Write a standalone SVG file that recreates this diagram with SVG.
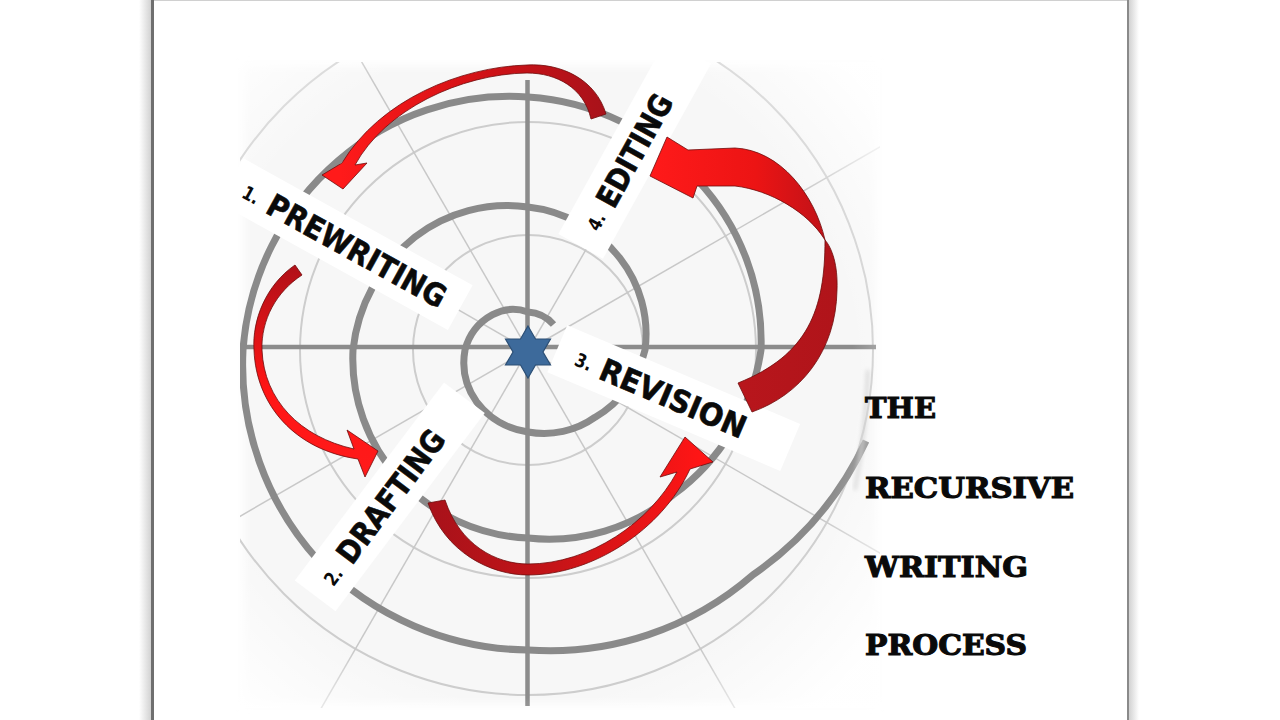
<svg xmlns="http://www.w3.org/2000/svg" width="1280" height="720" viewBox="0 0 1280 720">
<defs>
<style>
.thick{fill:none;stroke:#8a8a8a;stroke-width:7}
.axis{fill:none;stroke:#8c8c8c;stroke-width:4.5}
.thin{fill:none;stroke:#cdcdcd;stroke-width:2}
.ray{stroke:#c8c8c8;stroke-width:1.5}
.band{fill:#ffffff}
.lbl{font-family:"DejaVu Sans","Liberation Sans",sans-serif;font-weight:bold;font-size:31px;fill:#0a0a0a;stroke:#0a0a0a;stroke-width:0.6}
.num{font-family:"DejaVu Sans","Liberation Sans",sans-serif;font-weight:bold;font-size:19px;fill:#0a0a0a}
.ttl{font-family:"DejaVu Serif","Liberation Serif",serif;font-weight:bold;font-size:28px;fill:#0a0a0a;stroke:#0a0a0a;stroke-width:1.1}
.arrow{stroke:#6e0b0b;stroke-width:0.8;stroke-linejoin:round}
</style>
<clipPath id="picClip"><rect x="240" y="62" width="640" height="646"/></clipPath>
<radialGradient id="vig" gradientUnits="userSpaceOnUse" cx="528" cy="372" r="440">
<stop offset="0" stop-color="#fff" stop-opacity="0"/>
<stop offset="0.74" stop-color="#fff" stop-opacity="0"/>
<stop offset="1" stop-color="#fff" stop-opacity="0.95"/>
</radialGradient>
<linearGradient id="gA" gradientUnits="userSpaceOnUse" x1="340" y1="0" x2="606" y2="0">
<stop offset="0" stop-color="#ff1a1a"/><stop offset="0.45" stop-color="#d81216"/><stop offset="1" stop-color="#a8121a"/>
</linearGradient>
<linearGradient id="gB" gradientUnits="userSpaceOnUse" x1="0" y1="265" x2="0" y2="470">
<stop offset="0" stop-color="#b01018"/><stop offset="0.6" stop-color="#ff1515"/><stop offset="1" stop-color="#ff1a1a"/>
</linearGradient>
<linearGradient id="gC" gradientUnits="userSpaceOnUse" x1="430" y1="0" x2="700" y2="0">
<stop offset="0" stop-color="#a8121a"/><stop offset="0.45" stop-color="#c41418"/><stop offset="1" stop-color="#ff1515"/>
</linearGradient>
<linearGradient id="gDu" gradientUnits="userSpaceOnUse" x1="650" y1="0" x2="826" y2="0">
<stop offset="0" stop-color="#ff1a1a"/><stop offset="0.6" stop-color="#ec1414"/><stop offset="1" stop-color="#c01218"/>
</linearGradient>
<linearGradient id="gDl" gradientUnits="userSpaceOnUse" x1="740" y1="0" x2="838" y2="0">
<stop offset="0" stop-color="#b8161c"/><stop offset="1" stop-color="#b0141a"/>
</linearGradient>
<linearGradient id="shL" x1="0" y1="0" x2="1" y2="0">
<stop offset="0" stop-color="#ffffff"/><stop offset="1" stop-color="#d2d2d2"/>
</linearGradient>
<linearGradient id="shR" x1="0" y1="0" x2="1" y2="0">
<stop offset="0" stop-color="#d2d2d2"/><stop offset="1" stop-color="#ffffff"/>
</linearGradient>
<filter id="soft" x="-10%" y="-10%" width="120%" height="120%"><feGaussianBlur stdDeviation="4"/></filter>
<filter id="soft2" x="-20%" y="-20%" width="140%" height="140%"><feGaussianBlur stdDeviation="2"/></filter>
</defs>

<rect width="1280" height="720" fill="#ffffff"/>

<g id="page-frame">
<rect x="139" y="0" width="12" height="720" fill="url(#shL)"/>
<line x1="152.5" y1="0" x2="152.5" y2="720" stroke="#6f6f6f" stroke-width="3"/>
<rect x="1129" y="0" width="10" height="720" fill="url(#shR)"/>
<line x1="1128" y1="0" x2="1128" y2="720" stroke="#8a8a8a" stroke-width="2"/>
<line x1="154" y1="0.5" x2="1127" y2="0.5" stroke="#d0d0d0" stroke-width="1"/>
</g>

<g id="grid">
<rect x="244" y="66" width="632" height="638" fill="#f7f7f7" filter="url(#soft)"/>
<g clip-path="url(#picClip)">
<circle class="thin" cx="528" cy="350" r="115"/>
<circle class="thin" cx="528" cy="350" r="228"/>
<circle class="thin" cx="528" cy="350" r="345"/>
<line class="ray" x1="528" y1="350" x2="900.4" y2="135"/>
<line class="ray" x1="528" y1="350" x2="743" y2="-22.4"/>
<line class="ray" x1="528" y1="350" x2="313" y2="-22.4"/>
<line class="ray" x1="528" y1="350" x2="155.6" y2="135"/>
<line class="ray" x1="528" y1="350" x2="155.6" y2="565"/>
<line class="ray" x1="528" y1="350" x2="313" y2="722.4"/>
<line class="ray" x1="528" y1="350" x2="743" y2="722.4"/>
<line class="ray" x1="528" y1="350" x2="900.4" y2="565"/>
<path class="axis" d="M240 347 H876 M527.5 80 V706"/>
<path class="thick" d="M 553.5 324.5 A 37 37 0 0 0 528 312 A 44 44 0 0 0 492.6 314.6 A 56 56 0 0 0 465 350 A 68 68 0 0 0 476.4 401.6 A 78 78 0 0 0 528 432 A 88 88 0 0 0 595.2 417.2 A 106 106 0 0 0 645 350 A 123 123 0 0 0 619.9 258.1 A 136 136 0 0 0 528 207 A 151 151 0 0 0 414.9 236.9 A 167 167 0 0 0 353 350 A 178 178 0 0 0 399.3 478.7 A 185 185 0 0 0 528 538 A 196 196 0 0 0 673 495 A 219 219 0 0 0 761 350 A 236 236 0 0 0 697.7 180.3 A 246 246 0 0 0 528 97 A 260 260 0 0 0 338.5 160.5 A 276 276 0 0 0 243 350 A 291 291 0 0 0 318 560 A 298 298 0 0 0 528 650 A 309 309 0 0 0 752.9 574.9 A 335 335 0 0 0 866 441"/>
<path d="M 868 370 Q 866 430 855 490" fill="none" stroke="#cfcfcf" stroke-width="3" filter="url(#soft2)"/>
<rect x="240" y="62" width="640" height="646" fill="url(#vig)"/>
</g>
</g>

<g id="node-prewriting">
<g transform="translate(264 212) rotate(29)">
<rect class="band" x="-44" y="-37" width="262" height="51"/>
<text class="num" x="-28" y="-2" textLength="17" lengthAdjust="spacingAndGlyphs">1.</text>
<text class="lbl" x="0" y="0" textLength="200" lengthAdjust="spacingAndGlyphs">PREWRITING</text>
</g>
</g>

<g id="node-drafting">
<g transform="translate(352 566) rotate(-53)">
<rect class="band" x="-46" y="-37" width="248" height="51"/>
<text class="num" x="-28" y="-2" textLength="17" lengthAdjust="spacingAndGlyphs">2.</text>
<text class="lbl" x="0" y="0" textLength="158" lengthAdjust="spacingAndGlyphs">DRAFTING</text>
</g>
</g>

<g id="node-revision">
<g transform="translate(597 378) rotate(23)">
<rect class="band" x="-48" y="-37" width="253" height="51"/>
<text class="num" x="-27" y="-3" textLength="17" lengthAdjust="spacingAndGlyphs">3.</text>
<text class="lbl" x="0" y="0" textLength="156" lengthAdjust="spacingAndGlyphs">REVISION</text>
</g>
</g>

<g id="node-editing">
<g transform="translate(614 210) rotate(-61)">
<rect class="band" x="-48" y="-37" width="223" height="51"/>
<text class="num" x="-27" y="-3" textLength="17" lengthAdjust="spacingAndGlyphs">4.</text>
<text class="lbl" x="0" y="0" textLength="124" lengthAdjust="spacingAndGlyphs">EDITING</text>
</g>
</g>

<g id="node-center">
<polygon points="528,326 535.5,339 550.5,339 543,352 550.5,365 535.5,365 528,378 520.5,365 505.5,365 513,352 505.5,339 520.5,339" fill="#3d6a9b" stroke="#2c4f75" stroke-width="1.2"/>
</g>

<g id="connectors">
<path class="arrow" fill="url(#gA)" d="M 606 114 C 596 80 562 63 527 65 C 460 67 380 100 342 163 L 322 175 L 343 189 L 367 163 L 355 165 C 385 110 460 74 527 73 C 557 73 584 88 591 119 Z"/>
<path class="arrow" fill="url(#gB)" d="M 295 265 C 266 285 252 320 254 350 C 256 405 295 450 358 459 L 365 477 L 378 451 L 347 430 L 354 449 C 300 437 264 400 262 350 C 261 320 276 292 302 275 Z"/>
<path class="arrow" fill="url(#gC)" d="M 428 503 C 445 552 490 575 528 575 C 592 575 662 530 690 469 L 713 462 L 685 437 L 660 477 L 677 472 C 650 522 590 564 528 564 C 496 564 460 545 445 500 Z"/>
<path class="arrow" fill="url(#gDl)" d="M 752 412 C 800 395 836 352 837 290 C 838 265 832 248 825 240 C 825 310 808 355 738 383 Z"/>
<path class="arrow" fill="url(#gDu)" d="M 825 240 C 815 195 780 150 735 148 L 688 150 L 667 137 L 650 176 L 693 198 L 697 186 L 735 186 C 770 190 808 212 825 240 Z"/>
</g>

<g id="title">
<text class="ttl" x="865" y="418" textLength="71" lengthAdjust="spacingAndGlyphs">THE</text>
<text class="ttl" x="865" y="498" textLength="209" lengthAdjust="spacingAndGlyphs">RECURSIVE</text>
<text class="ttl" x="865" y="577" textLength="163" lengthAdjust="spacingAndGlyphs">WRITING</text>
<text class="ttl" x="865" y="655" textLength="162" lengthAdjust="spacingAndGlyphs">PROCESS</text>
</g>
</svg>
